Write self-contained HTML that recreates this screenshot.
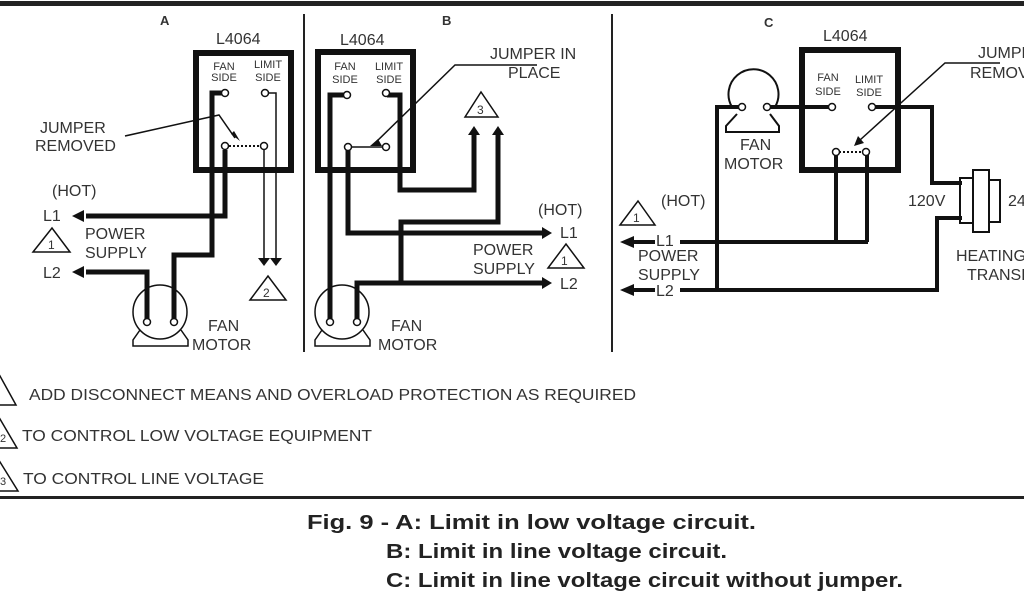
<!DOCTYPE html>
<html><head><meta charset="utf-8"><style>
html,body{margin:0;padding:0;background:#fff;}
svg{display:block}
text{font-family:"Liberation Sans",sans-serif;fill:#333;}
</style></head><body>
<svg width="1024" height="600" viewBox="0 0 1024 600" xmlns="http://www.w3.org/2000/svg">
<rect x="0" y="1" width="1024" height="5" fill="#222"/>
<rect x="0" y="496" width="1024" height="3" fill="#222"/>
<line x1="304" y1="14" x2="304" y2="352" stroke="#222" stroke-width="2"/>
<line x1="612" y1="14" x2="612" y2="352" stroke="#222" stroke-width="2"/>

<g font-size="16">
<!-- Panel A -->
<text x="160" y="25" font-weight="bold" font-size="13">A</text>
<text x="216" y="44">L4064</text>
<rect x="196" y="53" width="95" height="117" fill="none" stroke="#111" stroke-width="6"/>
<text x="224" y="70" font-size="11" text-anchor="middle">FAN</text><text x="224" y="81" font-size="11" text-anchor="middle">SIDE</text>
<text x="268" y="68" font-size="11" text-anchor="middle">LIMIT</text><text x="268" y="81" font-size="11" text-anchor="middle">SIDE</text>
<g fill="none" stroke="#111">
<polyline points="222,93 212,93 212,255 174,255 174,320" stroke-width="5"/>
<polyline points="225,150 225,216 86,216" stroke-width="5"/>
<polyline points="86,272 147,272 147,320" stroke-width="5"/>
<polyline points="268,93 276,93 276,258" stroke-width="1.5"/>
<polyline points="264,146 264,258" stroke-width="1.5"/>
<line x1="229" y1="146" x2="261" y2="146" stroke-width="2" stroke-dasharray="2,2"/>
<polyline points="125,136 219,115 235,138" stroke-width="1.5"/>
</g>
<path d="M72,216 L84,210 L84,222z M72,272 L84,266 L84,278z M258,258 L270,258 L264,266z M270,258 L282,258 L276,266z M231,134 L240,141 L234,131z" fill="#111"/>
<g fill="#fff" stroke="#111" stroke-width="1.5"><circle cx="225" cy="93" r="3.5"/><circle cx="265" cy="93" r="3.5"/><circle cx="225" cy="146" r="3.5"/><circle cx="264" cy="146" r="3.5"/></g>
<text x="40" y="133">JUMPER</text><text x="35" y="151">REMOVED</text>
<text x="52" y="196">(HOT)</text><text x="43" y="221">L1</text><text x="43" y="278">L2</text>
<text x="85" y="239">POWER</text><text x="85" y="258">SUPPLY</text>
<path d="M33,252 L52,228 L70,252z" fill="none" stroke="#111" stroke-width="1.5"/><text x="48" y="249" font-size="12">1</text>
<path d="M250,300 L268,276 L286,300z" fill="none" stroke="#111" stroke-width="1.5"/><text x="263" y="297" font-size="12">2</text>
<g fill="none" stroke="#111" stroke-width="1.5"><circle cx="160" cy="312" r="27"/><path d="M140,330 L133,340 L133,346 L188,346 L188,340 L181,330"/></g>
<polyline points="147,272 147,320" stroke="#111" stroke-width="5"/><polyline points="174,255 174,320" stroke="#111" stroke-width="5"/>
<g fill="#fff" stroke="#111" stroke-width="1.5"><circle cx="147" cy="322" r="3.5"/><circle cx="174" cy="322" r="3.5"/></g>
<text x="208" y="331">FAN</text><text x="192" y="350">MOTOR</text>

<!-- Panel B -->
<text x="442" y="25" font-weight="bold" font-size="13">B</text>
<text x="340" y="45">L4064</text>
<rect x="318" y="52" width="95" height="118" fill="none" stroke="#111" stroke-width="6"/>
<text x="345" y="70" font-size="11" text-anchor="middle">FAN</text><text x="345" y="83" font-size="11" text-anchor="middle">SIDE</text>
<text x="389" y="70" font-size="11" text-anchor="middle">LIMIT</text><text x="389" y="83" font-size="11" text-anchor="middle">SIDE</text>
<g fill="none" stroke="#111" stroke-width="5">
<polyline points="345,95 330,95 330,320"/>
<polyline points="348,150 348,233 542,233"/>
<polyline points="387,95 400,95 400,190 474,190 474,135"/>
<polyline points="498,135 498,222 401,222 401,283"/>
<polyline points="357,320 357,283 542,283"/>
</g>
<line x1="348" y1="147" x2="385" y2="147" stroke="#111" stroke-width="1.5"/>
<polyline points="537,65 455,65 375,143" fill="none" stroke="#111" stroke-width="1.5"/>
<path d="M370,146 L382,146 L378,139z" fill="#111"/>
<path d="M468,135 L474,126 L480,135z M492,135 L498,126 L504,135z M542,227 L552,233 L542,239z M542,277 L552,283 L542,289z" fill="#111"/>
<g fill="#fff" stroke="#111" stroke-width="1.5"><circle cx="347" cy="95" r="3.5"/><circle cx="386" cy="93" r="3.5"/><circle cx="348" cy="147" r="3.5"/><circle cx="386" cy="147" r="3.5"/></g>
<text x="490" y="59">JUMPER IN</text><text x="508" y="78">PLACE</text>
<path d="M465,117 L481,92 L498,117z" fill="none" stroke="#111" stroke-width="1.5"/><text x="477" y="114" font-size="12">3</text>
<text x="538" y="215">(HOT)</text><text x="560" y="238">L1</text><text x="560" y="289">L2</text>
<text x="473" y="255">POWER</text><text x="473" y="274">SUPPLY</text>
<path d="M548,268 L566,244 L584,268z" fill="none" stroke="#111" stroke-width="1.5"/><text x="561" y="265" font-size="12">1</text>
<g fill="none" stroke="#111" stroke-width="1.5"><circle cx="342" cy="312" r="27"/><path d="M322,330 L315,340 L315,346 L370,346 L370,340 L363,330"/></g>
<g fill="#fff" stroke="#111" stroke-width="1.5"><circle cx="330" cy="322" r="3.5"/><circle cx="357" cy="322" r="3.5"/></g>
<text x="391" y="331">FAN</text><text x="378" y="350">MOTOR</text>

<!-- Panel C -->
<text x="764" y="27" font-weight="bold" font-size="13">C</text>
<text x="823" y="41">L4064</text>
<rect x="802" y="50" width="96" height="120" fill="none" stroke="#111" stroke-width="6"/>
<text x="828" y="81" font-size="11" text-anchor="middle">FAN</text><text x="828" y="95" font-size="11" text-anchor="middle">SIDE</text>
<text x="869" y="83" font-size="11" text-anchor="middle">LIMIT</text><text x="869" y="96" font-size="11" text-anchor="middle">SIDE</text>
<g fill="none" stroke="#111" stroke-width="4">
<polyline points="740,107 717,107 717,290"/>
<polyline points="770,107 830,107"/>
<polyline points="875,107 932,107 932,183 962,183"/>
<polyline points="962,218 937,218 937,290 680,290"/>
<polyline points="680,242 868,242"/>
<polyline points="836,153 836,242"/><polyline points="867,153 867,242"/>
<line x1="634" y1="242" x2="655" y2="242"/><line x1="634" y1="290" x2="655" y2="290"/>
</g>
<path d="M620,242 L634,236 L634,248z M620,290 L634,284 L634,296z" fill="#111"/>
<line x1="839" y1="152" x2="864" y2="152" stroke="#111" stroke-width="2" stroke-dasharray="2,2"/>
<polyline points="1000,63 945,63 860,140" fill="none" stroke="#111" stroke-width="1.5"/>
<path d="M854,146 L864,143 L858,136z" fill="#111"/>
<g fill="#fff" stroke="#111" stroke-width="1.5"><circle cx="832" cy="107" r="3.5"/><circle cx="872" cy="107" r="3.5"/><circle cx="836" cy="152" r="3.5"/><circle cx="866" cy="152" r="3.5"/></g>
<g fill="none" stroke="#111" stroke-width="2">
<path d="M732,107 A25,25 0 1 1 775,107"/><path d="M737,114 L726,126 L726,132 L779,132 L779,126 L770,114"/>
<rect x="960" y="178" width="13" height="45"/><rect x="973" y="170" width="16" height="62"/><rect x="989" y="180" width="11" height="42"/>
</g>
<g fill="#fff" stroke="#111" stroke-width="1.5"><circle cx="742" cy="107" r="3.5"/><circle cx="767" cy="107" r="3.5"/></g>
<text x="740" y="150">FAN</text><text x="724" y="169">MOTOR</text>
<text x="978" y="58">JUMPER</text><text x="970" y="78">REMOVED</text>
<text x="908" y="206">120V</text><text x="1008" y="206">24V</text>
<text x="956" y="261">HEATING</text><text x="967" y="280">TRANSFORMER</text>
<text x="661" y="206">(HOT)</text><text x="656" y="246">L1</text><text x="656" y="296">L2</text>
<text x="638" y="261">POWER</text><text x="638" y="280">SUPPLY</text>
<path d="M620,225 L638,201 L655,225z" fill="none" stroke="#111" stroke-width="1.5"/><text x="633" y="222" font-size="12">1</text>
</g>

<!-- Notes -->
<g font-size="16">
<path d="M-20,405 L0,376 L16,405z" fill="none" stroke="#111" stroke-width="1.5"/>
<text x="29" y="400" textLength="607" lengthAdjust="spacingAndGlyphs">ADD DISCONNECT MEANS AND OVERLOAD PROTECTION AS REQUIRED</text>
<path d="M-20,448 L0,419 L17,448z" fill="none" stroke="#111" stroke-width="1.5"/><text x="0" y="442" font-size="11">2</text>
<text x="22" y="441" textLength="350" lengthAdjust="spacingAndGlyphs">TO CONTROL LOW VOLTAGE EQUIPMENT</text>
<path d="M-20,491 L0,462 L18,491z" fill="none" stroke="#111" stroke-width="1.5"/><text x="0" y="485" font-size="11">3</text>
<text x="23" y="484" textLength="241" lengthAdjust="spacingAndGlyphs">TO CONTROL LINE VOLTAGE</text>
</g>
<g font-size="20" font-weight="bold">
<text x="307" y="529" style="fill:#222" textLength="449" lengthAdjust="spacingAndGlyphs">Fig. 9 - A: Limit in low voltage circuit.</text>
<text x="386" y="558" style="fill:#222" textLength="341" lengthAdjust="spacingAndGlyphs">B: Limit in line voltage circuit.</text>
<text x="386" y="587" style="fill:#222" textLength="517" lengthAdjust="spacingAndGlyphs">C: Limit in line voltage circuit without jumper.</text>
</g>
</svg>
</body></html>
